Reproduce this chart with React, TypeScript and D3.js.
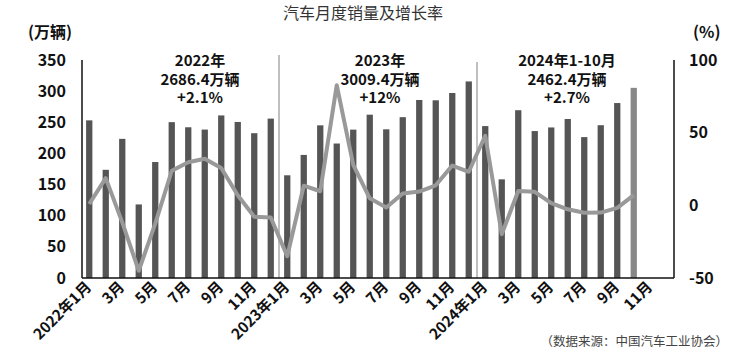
import React from "react";
import * as d3 from "d3";

// monthly sales (万辆), 2022-01 .. 2024-10
const sales2022 = [253.1, 173.7, 223.4, 118.1, 186.2, 250.2, 242.0, 238.3, 261.0, 250.5, 232.5, 255.9];
const sales2023 = [164.9, 197.6, 245.1, 215.9, 238.2, 262.2, 238.7, 258.2, 285.8, 285.3, 297.0, 315.6];
const sales2024 = [243.9, 158.4, 269.4, 235.9, 241.7, 255.3, 226.2, 245.3, 280.9, 305.3];

// year-on-year growth (%)
const growth2022 = [0.9, 18.7, -11.7, -45, -12.6, 23.8, 29.7, 32.1, 25.7, 6.9, -7.9, -8.4];
const growth2023 = [-35, 13.5, 9.7, 82.7, 27.9, 4.8, -1.5, 8.2, 9.5, 13.8, 27.4, 23.1];
const growth2024 = [47.9, -19.9, 9.9, 9.3, 1.5, -2.7, -5.1, -5.0, -1.7, 7.0];

const years = ["2022", "2023", "2024"];
const leftTicks = [0, 50, 100, 150, 200, 250, 300, 350];
const rightTicks = [-50, 0, 50, 100];

const yearNotes = [
  ["2022年", "2686.4万辆", "+2.1%"],
  ["2023年", "3009.4万辆", "+12%"],
  ["2024年1-10月", "2462.4万辆", "+2.7%"],
];

const W = 734;
const H = 351;
const left = 82;
const right = 674;
const top = 60;
const bottom = 278;
const font = "'Noto Sans CJK SC', 'Noto Sans', sans-serif";

export default function App() {
  const months: string[] = [];
  years.forEach((y) => d3.range(1, 13).forEach((m) => months.push(`${y}-${m}`)));
  const sales = [...sales2022, ...sales2023, ...sales2024];
  const growth = [...growth2022, ...growth2023, ...growth2024];

  const x = d3.scaleBand().domain(months).range([left - 1, right + 1]).paddingInner(0.62).paddingOuter(0.31);
  const yL = d3.scaleLinear().domain([0, 350]).range([bottom, top]);
  const yR = d3.scaleLinear().domain([-50, 100]).range([bottom, top]);
  const cx = (i: number) => (x(months[i]) as number) + x.bandwidth() / 2;

  const line = d3
    .line<number>()
    .x((_, i) => cx(i))
    .y((d) => yR(d));

  const sep = (i: number) => (cx(i - 1) + cx(i)) / 2;

  return (
    <svg width={W} height={H} style={{ position: "absolute", left: 0, top: 0, background: "#fff" }} fontFamily={font}>
      <text x={363} y={19} textAnchor="middle" fontSize={16} fill="#333">汽车月度销量及增长率</text>
      <text x={28} y={38} fontSize={16} fontWeight="bold" fill="#111">(万辆)</text>
      <text x={693} y={38} fontSize={16} fontWeight="bold" fill="#111">(%)</text>

      {leftTicks.map((t) => (
        <text key={t} x={66} y={yL(t)} dy="0.35em" textAnchor="end" fontSize={16} fontWeight="bold" fill="#111">{t}</text>
      ))}
      {rightTicks.map((t) => (
        <text key={t} x={689} y={yR(t)} dy="0.35em" fontSize={16} fontWeight="bold" fill="#111">{t}</text>
      ))}

      {/* year separators */}
      <line x1={sep(12)} x2={sep(12)} y1={55} y2={bottom} stroke="#aaa" strokeWidth={1.5} />
      <line x1={sep(24)} x2={sep(24)} y1={62} y2={bottom} stroke="#aaa" strokeWidth={1.5} />

      {sales.map((v, i) => (
        <rect key={i} x={x(months[i])} y={yL(v)} width={x.bandwidth()} height={bottom - yL(v)}
          fill={i === sales.length - 1 ? "#888" : "#555"} />
      ))}

      <path d={line(growth) || ""} fill="none" stroke="#999" strokeWidth={4} strokeLinejoin="round" />

      <line x1={left} x2={left} y1={top} y2={bottom} stroke="#111" strokeWidth={1.5} />
      <line x1={right} x2={right} y1={top} y2={bottom} stroke="#111" strokeWidth={1.5} />
      <line x1={left} x2={right} y1={bottom} y2={bottom} stroke="#111" strokeWidth={1.5} />

      {months.map((m, i) => {
        if (i % 2 !== 0) return null;
        const [yr, mo] = m.split("-");
        const label = mo === "1" ? `${yr}年1月` : `${mo}月`;
        const px = cx(i) + 3;
        const py = 288;
        return (
          <text key={m} x={px} y={py} textAnchor="end" fontSize={15} fontWeight="bold" fill="#111"
            transform={`rotate(-45 ${px} ${py})`}>{label}</text>
        );
      })}

      {yearNotes.map((lines, k) => {
        const c = [200, 380, 567][k];
        return lines.map((s, j) => (
          <text key={`${k}-${j}`} x={c} y={66 + j * 18.5} textAnchor="middle" fontSize={15} fontWeight="bold" fill="#111">{s}</text>
        ));
      })}

      <text x={728} y={346} textAnchor="end" fontSize={12.5} fill="#444">（数据来源：中国汽车工业协会）</text>
    </svg>
  );
}
